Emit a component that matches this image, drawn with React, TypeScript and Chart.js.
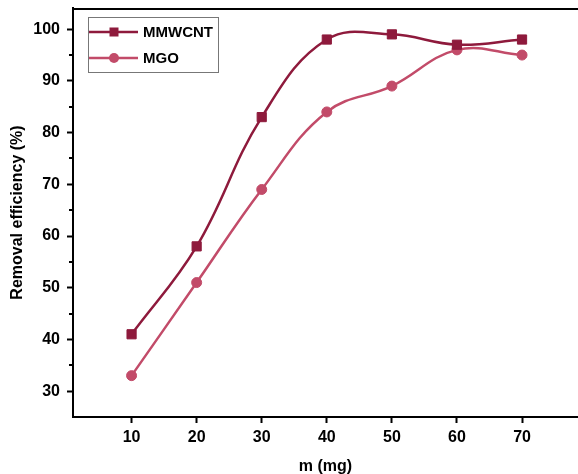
import React, { useEffect, useRef } from 'react';
import { Chart, registerables } from 'chart.js';

Chart.register(...registerables);

const masses = [10, 20, 30, 40, 50, 60, 70];
const mmwcnt = [41, 58, 83, 98, 99, 97, 98];
const mgo = [33, 51, 69, 84, 89, 96, 95];
const seriesNames = ['MMWCNT', 'MGO'];
const xTicks = [10, 20, 30, 40, 50, 60, 70];
const yTicks = [30, 40, 50, 60, 70, 80, 90, 100];
const yMinorTicks = [35, 45, 55, 65, 75, 85, 95];
const xTitle = 'm (mg)';
const yTitle = 'Removal efficiency (%)';

const DARK = '#8E1A3C';
const LIGHT = '#C24B69';
const FONT = '"Liberation Sans", Arial, sans-serif';

const decorPlugin = {
  id: 'decor',
  afterDraw(chart: any) {
    const { ctx, chartArea } = chart;
    const yScale = chart.scales.y;
    ctx.save();
    ctx.strokeStyle = '#000';
    ctx.lineWidth = 2;
    ctx.beginPath();
    ctx.moveTo(chartArea.left - 1, chartArea.top + 1);
    ctx.lineTo(chartArea.right, chartArea.top + 1);
    ctx.stroke();
    ctx.beginPath();
    yMinorTicks.forEach((v) => {
      const p = Math.round(yScale.getPixelForValue(v));
      ctx.moveTo(chartArea.left, p);
      ctx.lineTo(chartArea.left - 4, p);
    });
    ctx.stroke();

    const bx = 88, by = 17, bw = 130, bh = 55;
    ctx.lineWidth = 1;
    ctx.strokeStyle = '#777';
    ctx.strokeRect(bx + 0.5, by + 0.5, bw, bh);
    const rows = [
      { name: seriesNames[0], color: DARK, y: 32, shape: 'rect' },
      { name: seriesNames[1], color: LIGHT, y: 58, shape: 'circle' },
    ];
    rows.forEach((r) => {
      ctx.strokeStyle = r.color;
      ctx.fillStyle = r.color;
      ctx.lineWidth = 2.5;
      ctx.beginPath();
      ctx.moveTo(89, r.y);
      ctx.lineTo(138, r.y);
      ctx.stroke();
      if (r.shape === 'rect') {
        ctx.fillRect(114 - 4.5, r.y - 4.5, 9, 9);
      } else {
        ctx.beginPath();
        ctx.arc(114, r.y, 5, 0, Math.PI * 2);
        ctx.fill();
      }
      ctx.fillStyle = '#000';
      ctx.font = `bold 15px ${FONT}`;
      ctx.textBaseline = 'middle';
      ctx.textAlign = 'left';
      ctx.fillText(r.name, 143, r.y + 1);
    });
    ctx.restore();
  },
};

const zeroPad = (s: any) => {
  s.paddingTop = 0;
  s.paddingBottom = 0;
  s.paddingLeft = 0;
  s.paddingRight = 0;
};

export default function App() {
  const ref = useRef<HTMLCanvasElement | null>(null);

  useEffect(() => {
    document.body.style.margin = '0';
    const canvas = ref.current;
    if (!canvas) return;
    const chart = new Chart(canvas, {
      type: 'line',
      data: {
        datasets: [
          {
            label: seriesNames[0],
            data: masses.map((m, i) => ({ x: m, y: mmwcnt[i] })),
            borderColor: DARK,
            backgroundColor: DARK,
            borderWidth: 2.5,
            pointStyle: 'rect',
            pointRadius: 6.5,
            pointBorderWidth: 1,
            tension: 0.4,
          },
          {
            label: seriesNames[1],
            data: masses.map((m, i) => ({ x: m, y: mgo[i] })),
            borderColor: LIGHT,
            backgroundColor: LIGHT,
            borderWidth: 2.5,
            pointStyle: 'circle',
            pointRadius: 5,
            pointBorderWidth: 1,
            tension: 0.4,
          },
        ],
      },
      options: {
        responsive: false,
        animation: false,
        devicePixelRatio: 1,
        layout: { autoPadding: false, padding: { top: 8, left: 0, right: 0, bottom: 0 } },
        plugins: { legend: { display: false }, tooltip: { enabled: false } },
        scales: {
          x: {
            type: 'linear',
            min: 1,
            max: 78.6,
            afterBuildTicks: (s: any) => {
              s.ticks = xTicks.map((v) => ({ value: v }));
            },
            afterFit: (s: any) => {
              s.height = 57;
              zeroPad(s);
            },
            grid: {
              drawOnChartArea: false,
              drawTicks: true,
              tickLength: 6,
              tickWidth: 2,
              tickColor: '#000',
            },
            border: { display: true, color: '#000', width: 2 },
            ticks: {
              color: '#000',
              padding: 5,
              font: { family: FONT, size: 16, weight: 'bold' },
              maxRotation: 0,
            },
            title: {
              display: true,
              text: xTitle,
              color: '#000',
              font: { family: FONT, size: 16, weight: 'bold', lineHeight: 1 },
              padding: { top: 0, bottom: -1 },
            },
          },
          y: {
            min: 25,
            max: 104.1,
            afterBuildTicks: (s: any) => {
              s.ticks = yTicks.map((v) => ({ value: v }));
            },
            afterFit: (s: any) => {
              s.width = 73;
              zeroPad(s);
            },
            grid: {
              drawOnChartArea: false,
              drawTicks: true,
              tickLength: 6,
              tickWidth: 2,
              tickColor: '#000',
            },
            border: { display: true, color: '#000', width: 2 },
            ticks: {
              color: '#000',
              padding: 7,
              font: { family: FONT, size: 16, weight: 'bold' },
            },
            title: {
              display: true,
              text: yTitle,
              color: '#000',
              font: { family: FONT, size: 16, weight: 'bold', lineHeight: 1 },
              padding: { top: 10, bottom: 0 },
            },
          },
        },
      },
      plugins: [decorPlugin],
    });
    return () => chart.destroy();
  }, []);

  return (
    <div style={{ width: 578, height: 474, background: '#fff' }}>
      <canvas ref={ref} width={578} height={474} style={{ display: 'block' }} />
    </div>
  );
}
